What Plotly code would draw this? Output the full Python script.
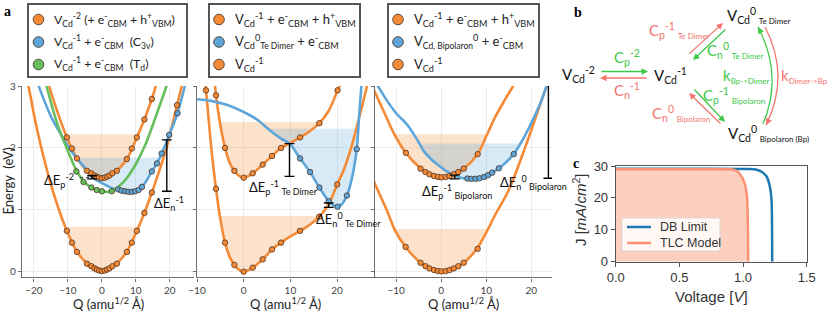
import plotly.graph_objects as go

# ---------------- Panel a1 (V_Cd^-2 / V_Cd^-1 C3v / Td) ----------------
a1_lo_q = [-23.0, -21.6, -19.0, -16.0, -13.0, -10.3, -7.4, -4.4, -2.0, 0.0, 2.0, 4.4, 7.4, 10.3, 12.5, 14.7, 17.0, 19.1, 22.1, 23.5, 24.5]
a1_lo_e = [3.35, 3.00, 2.28, 1.61, 1.06, 0.66, 0.33, 0.13, 0.03, 0.00, 0.03, 0.13, 0.33, 0.66, 0.95, 1.28, 1.65, 2.02, 2.69, 3.00, 3.25]
a1_lo_mk_q = [-10.3, -8.8, -7.35, -4.4, -3.1, -2.2, -1.5, -0.8, 0.0, 0.8, 1.5, 2.25, 3.1, 4.4, 7.35, 8.8, 10.3, 12.5, 14.7, 22.1]
a1_lo_mk_e = [0.66, 0.47, 0.32, 0.13, 0.09, 0.055, 0.035, 0.02, 0.01, 0.02, 0.035, 0.055, 0.09, 0.13, 0.32, 0.47, 0.66, 0.95, 1.28, 2.69]
a1_hi_q = [-17.0, -15.5, -13.0, -10.3, -7.35, -4.4, -2.0, 0.0, 2.0, 4.4, 7.35, 10.3, 12.5, 14.7, 15.7, 16.5]
a1_hi_e = [3.35, 3.00, 2.57, 2.17, 1.83, 1.63, 1.53, 1.50, 1.53, 1.63, 1.82, 2.17, 2.46, 2.79, 2.97, 3.15]
a1_hi_mk_q = [-10.3, -8.8, -7.35, -4.4, -3.1, -2.2, -1.5, -0.8, 0.0, 0.8, 1.5, 2.25, 3.1, 4.4, 7.35, 8.8, 10.3, 12.5, 14.7]
a1_hi_mk_e = [2.17, 1.99, 1.83, 1.63, 1.59, 1.555, 1.535, 1.52, 1.51, 1.52, 1.535, 1.555, 1.59, 1.63, 1.82, 1.99, 2.17, 2.46, 2.79]
a1_bl_q = [-19.6, -18.6, -15.0, -12.5, -10.3, -7.8, -5.0, -2.9, 0.0, 3.0, 5.8, 8.3, 10.8, 12.5, 14.7, 16.2, 17.6, 19.8, 22.25, 24.4, 25.3]
a1_bl_e = [3.15, 3.00, 2.51, 2.26, 2.06, 1.86, 1.68, 1.53, 1.43, 1.35, 1.31, 1.29, 1.32, 1.42, 1.62, 1.75, 1.91, 2.21, 2.56, 3.00, 3.20]
a1_bl_mk_q = [4.8, 5.8, 6.8, 7.8, 8.8, 9.8, 10.8, 11.8, 14.7, 16.2, 17.6, 19.8, 22.25]
a1_bl_mk_e = [1.33, 1.31, 1.30, 1.29, 1.29, 1.30, 1.32, 1.37, 1.62, 1.75, 1.91, 2.21, 2.56]
a1_gr_q = [-17.5, -16.3, -13.0, -10.0, -7.5, -5.4, -3.1, -1.5, 0.0, 1.5, 2.9, 5.0, 7.0, 10.0, 13.0, 16.0, 19.0, 20.0]
a1_gr_e = [3.25, 3.00, 2.37, 1.95, 1.64, 1.46, 1.36, 1.32, 1.30, 1.29, 1.30, 1.38, 1.49, 1.74, 2.08, 2.53, 3.00, 3.20]
a1_gr_mk_q = [-7.5, -5.4, -3.1, -1.5, 0.0, 2.9]
a1_gr_mk_e = [1.62, 1.45, 1.36, 1.32, 1.30, 1.30]
# shaded wells: top energy, left Q, right Q  (lower orange, upper orange, blue)
a1_shade_top = [0.727, 2.22, 1.84]
a1_shade_ql = [-10.75, -10.6, -7.6]
a1_shade_qr = [10.75, 10.6, 17.5]
# barriers (Q, E_low, E_high)
a1_bar_q = [19.1, -2.9]
a1_bar_lo = [1.30, 1.50]
a1_bar_hi = [2.13, 1.55]
a1_dash_q = [-6.4, -3.1]
a1_dash_e = [1.52, 1.52]

# ---------------- Panel a2 (Te dimer) ----------------
a2_lo_q = [-8.6, -8.07, -7.0, -5.93, -5.0, -4.0, -3.0, -2.0, -1.0, 0.0, 1.93, 4.07, 6.07, 8.0, 10.0, 12.07, 14.0, 16.2, 18.2, 20.0, 21.4, 23.0, 24.6, 26.4, 27.0]
a2_lo_e = [3.30, 2.93, 2.05, 1.34, 0.85, 0.47, 0.24, 0.11, 0.03, 0.00, 0.065, 0.20, 0.36, 0.47, 0.57, 0.66, 0.75, 0.89, 1.09, 1.41, 1.64, 2.00, 2.45, 3.00, 3.20]
a2_lo_mk_q = [-8.07, -5.93, -4.0, -2.0, 0.0, 1.93, 4.07, 6.07, 8.0, 12.07, 16.2, 20.0]
a2_lo_mk_e = [2.93, 1.34, 0.47, 0.11, 0.00, 0.065, 0.20, 0.36, 0.47, 0.66, 0.89, 1.41]
a2_hi_q = [-6.4, -5.93, -5.0, -4.0, -3.0, -2.0, -1.0, 0.0, 1.93, 4.07, 6.07, 8.0, 10.0, 12.07, 14.0, 16.2, 18.2, 20.1, 20.8, 21.4]
a2_hi_e = [3.25, 2.85, 2.37, 2.00, 1.76, 1.63, 1.55, 1.52, 1.59, 1.73, 1.87, 2.00, 2.08, 2.17, 2.26, 2.40, 2.60, 2.93, 3.05, 3.20]
a2_hi_mk_q = [-5.93, -4.0, -2.0, 0.0, 1.93, 4.07, 6.07, 8.0, 12.07, 16.2, 20.1]
a2_hi_mk_e = [2.85, 2.00, 1.63, 1.52, 1.59, 1.73, 1.87, 2.00, 2.17, 2.40, 2.93]
a2_bl_q = [-10.5, -7.0, -3.8, 0.0, 3.0, 5.5, 8.0, 9.8, 12.07, 14.2, 16.2, 18.2, 19.2, 20.1, 21.0, 22.1, 23.2, 24.2, 24.7, 25.2, 25.6]
a2_bl_e = [2.79, 2.76, 2.70, 2.58, 2.45, 2.29, 2.15, 2.07, 1.83, 1.61, 1.36, 1.14, 1.07, 1.05, 1.09, 1.23, 1.52, 1.98, 2.50, 3.00, 3.35]
a2_bl_mk_q = [12.07, 14.2, 16.2, 18.2, 20.1, 22.1, 24.2]
a2_bl_mk_e = [1.83, 1.61, 1.36, 1.14, 1.05, 1.23, 1.98]
a2_shade_top = [0.90, 2.42, 2.31]
a2_shade_ql = [-5.07, -5.1, 5.2]
a2_shade_qr = [16.3, 16.45, 24.45]
a2_bar_q = [9.8, 18.2]
a2_bar_lo = [1.54, 1.04]
a2_bar_hi = [2.07, 1.11]

# ---------------- Panel a3 (Bipolaron) ----------------
a3_lo_q = [-15.0, -14.6, -12.0, -10.2, -7.9, -4.6, -2.0, 0.0, 2.0, 5.0, 7.9, 10.2, 12.0, 15.0, 18.7, 21.0, 23.5, 24.8]
a3_lo_e = [1.47, 1.40, 0.98, 0.66, 0.40, 0.145, 0.03, 0.00, 0.03, 0.145, 0.37, 0.66, 0.92, 1.32, 2.02, 2.50, 3.02, 3.30]
a3_lo_mk_q = [-7.9, -4.6, -3.5, -2.6, -1.6, -0.7, 0.07, 1.0, 1.85, 2.8, 3.8, 5.0, 8.1]
a3_lo_mk_e = [0.40, 0.145, 0.09, 0.054, 0.027, 0.011, 0.005, 0.011, 0.027, 0.054, 0.09, 0.145, 0.37]
a3_hi_q = [-15.5, -14.9, -12.7, -10.4, -7.85, -4.6, -2.0, 0.0, 2.0, 5.0, 8.1, 10.2, 12.0, 14.0, 16.8, 17.5]
a3_hi_e = [3.02, 2.93, 2.58, 2.22, 1.92, 1.67, 1.55, 1.52, 1.55, 1.665, 1.90, 2.22, 2.50, 2.76, 3.10, 3.20]
a3_hi_mk_q = [-7.85, -4.6, -3.5, -2.6, -1.6, -0.7, 0.07, 1.0, 1.85, 2.8, 3.8, 5.0, 8.1]
a3_hi_mk_e = [1.92, 1.665, 1.61, 1.574, 1.547, 1.531, 1.525, 1.531, 1.547, 1.574, 1.61, 1.665, 1.90]
a3_bl_q = [-15.2, -14.5, -12.0, -10.0, -7.5, -5.0, -3.8, -1.0, 2.2, 4.5, 6.7, 8.5, 10.4, 12.8, 16.1, 18.0, 20.0, 22.0, 23.5, 24.6]
a3_bl_e = [3.12, 3.05, 2.76, 2.56, 2.37, 2.09, 1.94, 1.74, 1.58, 1.515, 1.50, 1.51, 1.56, 1.67, 1.90, 2.12, 2.40, 2.72, 3.02, 3.25]
a3_bl_mk_q = [5.8, 6.7, 7.6, 8.5, 9.5, 10.4, 11.3, 12.8, 16.1]
a3_bl_mk_e = [1.505, 1.50, 1.50, 1.51, 1.53, 1.56, 1.60, 1.67, 1.90]
a3_shade_top = [0.69, 2.22, 2.07]
a3_shade_ql = [-10.45, -10.4, -5.1]
a3_shade_qr = [10.45, 10.2, 17.5]
a3_bar_q = [3.0, 23.8]
a3_bar_lo = [1.50, 1.51]
a3_bar_hi = [1.56, 3.03]

# ---------------- Panel c (J-V) ----------------
db_v = [0.0, 0.6, 1.05, 1.10, 1.146, 1.185, 1.211, 1.224, 1.229]
db_j = [29.1, 29.1, 29.05, 28.9, 28.2, 26.7, 23.5, 19.3, 0.0]
tlc_v = [0.0, 0.6, 0.90, 0.935, 0.963, 0.997, 1.02, 1.033, 1.041]
tlc_j = [29.0, 29.0, 28.95, 28.7, 28.0, 26.1, 23.5, 19.3, 0.0]
c_names = ["DB Limit", "TLC Model"]


def small(s, size=8.5):
    return "<span style='font-size:%spx'>%s</span>" % (size, s)


# legend labels for the three configuration-coordinate panels
leg1_labels = ["V<sub>Cd</sub><sup>-2</sup> (+ e<sup>-</sup><sub>CBM</sub> + h<sup>+</sup><sub>VBM</sub>)",
               "V<sub>Cd</sub><sup>-1</sup> + e<sup>-</sup><sub>CBM</sub>  (C<sub>3v</sub>)",
               "V<sub>Cd</sub><sup>-1</sup> + e<sup>-</sup><sub>CBM</sub>  (T<sub>d</sub>)"]
leg2_labels = ["V<sub>Cd</sub><sup>-1</sup> + e<sup>-</sup><sub>CBM</sub> + h<sup>+</sup><sub>VBM</sub>",
               "V<sub>Cd</sub><sup>0</sup><sub>" + small("Te Dimer") + "</sub> + e<sup>-</sup><sub>CBM</sub>",
               "V<sub>Cd</sub><sup>-1</sup>"]
leg3_labels = ["V<sub>Cd</sub><sup>-1</sup> + e<sup>-</sup><sub>CBM</sub> + h<sup>+</sup><sub>VBM</sub>",
               "V<sub>" + small("Cd, Bipolaron") + "</sub><sup>0</sup> + e<sup>-</sup><sub>CBM</sub>",
               "V<sub>Cd</sub><sup>-1</sup>"]

# ---------------- styling ----------------
W, H = 830, 315
ORANGE = "#f58a36"
BLUE = "#5ea6d9"
GREEN = "#66bf5c"
MK_LINE = "rgba(70,45,30,0.95)"
SH_OR = "rgba(245,138,54,0.26)"
SH_BL = "rgba(94,166,217,0.24)"
REDT = "#f27570"
GRNT = "#3ec84a"
DBC = "#1f77b4"
TLCC = "#fc9272"
FONT = "Lato"
CFONT = "Liberation Sans"
leg1_colors = [ORANGE, BLUE, GREEN]
leg2_colors = [ORANGE, BLUE, ORANGE]
leg3_colors = [ORANGE, BLUE, ORANGE]


def px(x):
    return x / W


def py(y):
    return 1 - y / H


fig = go.Figure()


def shade(qs, es, top, ql, qr, color, ax):
    xs, ys = [ql], [top]
    for q, e in zip(qs, es):
        if ql < q < qr:
            xs.append(q)
            ys.append(e)
    xs.append(qr)
    ys.append(top)
    fig.add_trace(go.Scatter(x=xs, y=ys, mode="lines", fill="toself", fillcolor=color,
                             line=dict(width=0, shape="spline"), hoverinfo="skip",
                             showlegend=False, xaxis="x" + ax, yaxis="y" + ax))


def curve(qs, es, color, ax):
    fig.add_trace(go.Scatter(x=qs, y=es, mode="lines", line=dict(color=color, width=2.6, shape="spline"),
                             hoverinfo="skip", showlegend=False, xaxis="x" + ax, yaxis="y" + ax))


def marks(qs, es, color, ax):
    fig.add_trace(go.Scatter(x=qs, y=es, mode="markers",
                             marker=dict(color=color, size=5.5, line=dict(color=MK_LINE, width=0.8)),
                             showlegend=False, hoverinfo="skip", xaxis="x" + ax, yaxis="y" + ax))


def bars(qs, lo, hi, ax):
    for q, a, b in zip(qs, lo, hi):
        fig.add_trace(go.Scatter(x=[q, q], y=[a, b], mode="lines+markers",
                                 line=dict(color="black", width=1.4),
                                 marker=dict(symbol="line-ew-open", size=7, line=dict(color="black", width=1.4)),
                                 hoverinfo="skip", showlegend=False, xaxis="x" + ax, yaxis="y" + ax))


# ---- a1 ----
ax = ""
shade(a1_lo_q, a1_lo_e, a1_shade_top[0], a1_shade_ql[0], a1_shade_qr[0], SH_OR, ax)
shade(a1_hi_q, a1_hi_e, a1_shade_top[1], a1_shade_ql[1], a1_shade_qr[1], SH_OR, ax)
shade(a1_bl_q, a1_bl_e, a1_shade_top[2], a1_shade_ql[2], a1_shade_qr[2], SH_BL, ax)
curve(a1_lo_q, a1_lo_e, ORANGE, ax)
curve(a1_hi_q, a1_hi_e, ORANGE, ax)
curve(a1_bl_q, a1_bl_e, BLUE, ax)
curve(a1_gr_q, a1_gr_e, GREEN, ax)
marks(a1_lo_mk_q, a1_lo_mk_e, ORANGE, ax)
marks(a1_hi_mk_q, a1_hi_mk_e, ORANGE, ax)
marks(a1_bl_mk_q, a1_bl_mk_e, BLUE, ax)
marks(a1_gr_mk_q, a1_gr_mk_e, GREEN, ax)
fig.add_trace(go.Scatter(x=a1_dash_q, y=a1_dash_e, mode="lines", line=dict(color="#333", width=1, dash="dot"),
                         hoverinfo="skip", showlegend=False))
bars(a1_bar_q, a1_bar_lo, a1_bar_hi, ax)

# ---- a2 ----
ax = "2"
shade(a2_lo_q, a2_lo_e, a2_shade_top[0], a2_shade_ql[0], a2_shade_qr[0], SH_OR, ax)
shade(a2_hi_q, a2_hi_e, a2_shade_top[1], a2_shade_ql[1], a2_shade_qr[1], SH_OR, ax)
shade(a2_bl_q, a2_bl_e, a2_shade_top[2], a2_shade_ql[2], a2_shade_qr[2], SH_BL, ax)
curve(a2_lo_q, a2_lo_e, ORANGE, ax)
curve(a2_hi_q, a2_hi_e, ORANGE, ax)
curve(a2_bl_q, a2_bl_e, BLUE, ax)
marks(a2_hi_mk_q, a2_hi_mk_e, ORANGE, ax)
marks(a2_bl_mk_q, a2_bl_mk_e, BLUE, ax)
marks(a2_lo_mk_q, a2_lo_mk_e, ORANGE, ax)
bars(a2_bar_q, a2_bar_lo, a2_bar_hi, ax)

# ---- a3 ----
ax = "3"
shade(a3_lo_q, a3_lo_e, a3_shade_top[0], a3_shade_ql[0], a3_shade_qr[0], SH_OR, ax)
shade(a3_hi_q, a3_hi_e, a3_shade_top[1], a3_shade_ql[1], a3_shade_qr[1], SH_OR, ax)
shade(a3_bl_q, a3_bl_e, a3_shade_top[2], a3_shade_ql[2], a3_shade_qr[2], SH_BL, ax)
curve(a3_lo_q, a3_lo_e, ORANGE, ax)
curve(a3_hi_q, a3_hi_e, ORANGE, ax)
curve(a3_bl_q, a3_bl_e, BLUE, ax)
marks(a3_hi_mk_q, a3_hi_mk_e, ORANGE, ax)
marks(a3_bl_mk_q, a3_bl_mk_e, BLUE, ax)
marks(a3_lo_mk_q, a3_lo_mk_e, ORANGE, ax)
bars(a3_bar_q, a3_bar_lo, a3_bar_hi, ax)

# ---- c ----
fig.add_trace(go.Scatter(x=tlc_v, y=tlc_j, mode="lines", fill="tozeroy", fillcolor="rgba(252,160,125,0.5)",
                         line=dict(width=0, shape="spline", smoothing=0.6), hoverinfo="skip",
                         showlegend=False, xaxis="x4", yaxis="y4"))
fig.add_trace(go.Scatter(x=db_v, y=db_j, mode="lines", name=c_names[0], showlegend=False,
                         line=dict(color=DBC, width=2.5, shape="spline", smoothing=0.6),
                         xaxis="x4", yaxis="y4"))
fig.add_trace(go.Scatter(x=tlc_v, y=tlc_j, mode="lines", name=c_names[1], showlegend=False,
                         line=dict(color=TLCC, width=2.5, shape="spline", smoothing=0.6),
                         xaxis="x4", yaxis="y4"))

# ---------------- axes ----------------
ax_common = dict(showline=True, linecolor="#6e6e6e", linewidth=1.4, ticks="outside", ticklen=3,
                 tickcolor="#6e6e6e", showgrid=True, gridcolor="#ececec", gridwidth=1, zeroline=False,
                 automargin=False, tickfont=dict(family=FONT, size=10, color="#444"))
ydom = [1 - 277.3 / H, 1 - 86 / H]
c_common = dict(showline=True, mirror=True, linecolor="#555", linewidth=1, ticks="outside", ticklen=4,
                tickcolor="#555", showgrid=False, zeroline=False, automargin=False,
                tickfont=dict(family=CFONT, size=13, color="#333"))
fig.update_layout(
    template="none",
    showlegend=False,
    xaxis=dict(domain=[px(22), px(194)], range=[-23.5, 27.1], tickvals=[-20, -10, 0, 10, 20],
               anchor="y", **ax_common),
    yaxis=dict(domain=ydom, range=[-0.09, 3.0], tickvals=[0, 1, 2, 3], anchor="x", **ax_common),
    xaxis2=dict(domain=[px(197), px(374)], range=[-10, 27.9], tickvals=[-10, 0, 10, 20],
                anchor="y2", **ax_common),
    yaxis2=dict(domain=ydom, range=[-0.09, 3.0], tickvals=[0, 1, 2, 3], showticklabels=False,
                anchor="x2", **ax_common),
    xaxis3=dict(domain=[px(375), px(552)], range=[-14.7, 24.6], tickvals=[-10, 0, 10, 20],
                anchor="y3", **ax_common),
    yaxis3=dict(domain=ydom, range=[-0.09, 3.0], tickvals=[0, 1, 2, 3], showticklabels=False,
                anchor="x3", **ax_common),
    xaxis4=dict(domain=[px(615.7), px(806.7)], range=[0, 1.5], tickvals=[0, 0.5, 1.0, 1.5],
                tickformat=".1f", anchor="y4", **c_common),
    yaxis4=dict(domain=[1 - 261.7 / H, 1 - 166 / H], range=[0, 30], tickvals=[0, 10, 20, 30],
                anchor="x4", **c_common),
)

ann = []
shapes = []

# axis titles
for cx in [108, 285.5, 463.5]:
    ann.append(dict(text="Q (amu<sup>1/2</sup> Å)", x=px(cx), y=py(303), xref="paper", yref="paper",
                    showarrow=False, xanchor="center", yanchor="middle",
                    font=dict(family=FONT, size=13, color="#222")))
ann.append(dict(text="Energy  (eV)", x=px(7.5), y=py(181), xref="paper", yref="paper", textangle=-90,
                showarrow=False, xanchor="center", yanchor="middle", font=dict(family=FONT, size=13, color="#222")))
ann.append(dict(text="Voltage [<i>V</i>]", x=px(711), y=py(296), xref="paper", yref="paper",
                showarrow=False, xanchor="center", yanchor="middle", font=dict(family=CFONT, size=15, color="#333")))
ann.append(dict(text="J [<i>mA</i>/<i>cm</i><sup>2</sup>]", x=px(579), y=py(210), xref="paper", yref="paper",
                textangle=-90, showarrow=False, xanchor="center", yanchor="middle",
                font=dict(family=CFONT, size=15, color="#333")))

# ---- boxed keys for panels a (drawn as layout shapes + text) ----
boxes = [(28, 187, 38.5, 52, leg1_labels, leg1_colors, 12.3),
         (209, 360, 219, 233, leg2_labels, leg2_colors, 13),
         (388, 539, 398, 412, leg3_labels, leg3_colors, 13)]
rows_y = [19.5, 42, 64.5]
for x0, x1, mx, tx, labels, cols, fs in boxes:
    shapes.append(dict(type="rect", xref="paper", yref="paper", x0=px(x0), x1=px(x1), y0=py(77), y1=py(4),
                       line=dict(color="#555", width=2), fillcolor="white"))
    for ry, lab, col in zip(rows_y, labels, cols):
        shapes.append(dict(type="circle", xref="paper", yref="paper", x0=px(mx - 5.3), x1=px(mx + 5.3),
                           y0=py(ry + 5.3), y1=py(ry - 5.3), fillcolor=col,
                           line=dict(color="#4a3a30", width=0.9)))
        ann.append(dict(text=lab, x=px(tx), y=py(ry), xref="paper", yref="paper", showarrow=False,
                        xanchor="left", yanchor="middle", font=dict(family=FONT, size=fs, color="#222")))

# ---- key for panel c ----
shapes.append(dict(type="path", xref="paper", yref="paper",
                   path="M %f,%f L %f,%f L %f,%f L %f,%f Z" % (px(622), py(218), px(720), py(218),
                                                               px(720), py(251), px(622), py(251)),
                   line=dict(color="#d8d8d8", width=1), fillcolor="rgba(255,255,255,0.85)"))
for ry, lab, col in zip([227, 243], c_names, [DBC, TLCC]):
    shapes.append(dict(type="line", xref="paper", yref="paper", x0=px(627), x1=px(651), y0=py(ry), y1=py(ry),
                       line=dict(color=col, width=2.5)))
    ann.append(dict(text=lab, x=px(658), y=py(ry), xref="paper", yref="paper", showarrow=False,
                    xanchor="left", yanchor="middle", font=dict(family=CFONT, size=12.5, color="#333")))

# panel letters
for letter, x, y in [("a", 2, 2), ("b", 572, 3), ("c", 571, 154)]:
    ann.append(dict(text="<b>%s</b>" % letter, x=px(x), y=py(y), xref="paper", yref="paper",
                    xanchor="left", yanchor="top", showarrow=False,
                    font=dict(family="Liberation Serif", size=14, color="black")))

# Delta E labels (data coords)
lab_font = dict(family=FONT, size=13, color="#111")
for txt, x, y, xr, yr in [
    ("ΔE<sub>p</sub><sup>-2</sup>", -12.6, 1.47, "x", "y"),
    ("ΔE<sub>n</sub><sup>-1</sup>", 19.6, 1.10, "x", "y"),
    ("ΔE<sub>p</sub><sup>-1</sup><sub> " + small("Te Dimer", 9) + "</sub>", 8.6, 1.36, "x2", "y2"),
    ("ΔE<sub>n</sub><sup>0</sup><sub> " + small("Te Dimer", 9) + "</sub>", 22.4, 0.85, "x2", "y2"),
    ("ΔE<sub>p</sub><sup>-1</sup><sub> " + small("Bipolaron", 9) + "</sub>", 3.6, 1.30, "x3", "y3"),
    ("ΔE<sub>n</sub><sup>0</sup><sub> " + small("Bipolaron", 9) + "</sub>", 20.6, 1.44, "x3", "y3"),
]:
    ann.append(dict(text=txt, x=x, y=y, xref=xr, yref=yr, showarrow=False, font=lab_font,
                    xanchor="center", yanchor="middle"))

# panel b: state labels
bfont_k = dict(family=FONT, size=15, color="#111")
for txt, x, y in [
    ("V<sub>Cd</sub><sup>-2</sup>", 578, 74),
    ("V<sub>Cd</sub><sup>-1</sup>", 670, 75),
    ("V<sub>Cd</sub><sup>0</sup><sub> " + small("Te Dimer", 8) + "</sub>", 759, 15),
    ("V<sub>Cd</sub><sup>0</sup><sub> " + small("Bipolaron (Bp)", 8) + "</sub>", 768, 133),
]:
    ann.append(dict(text=txt, x=px(x), y=py(y), xref="paper", yref="paper", showarrow=False,
                    font=bfont_k, xanchor="center", yanchor="middle"))
for txt, x, y, col, anchor in [
    ("C<sub>p</sub><sup>-2</sup>", 627, 57, GRNT, "center"),
    ("C<sub>n</sub><sup>-1</sup>", 627, 91, REDT, "center"),
    ("C<sub>p</sub><sup>-1</sup><sub> " + small("Te Dimer", 8) + "</sub>", 679, 31, REDT, "center"),
    ("C<sub>n</sub><sup>0</sup><sub> " + small("Te Dimer", 8) + "</sub>", 735, 51, GRNT, "center"),
    ("k<sub>" + small("Bp->Dimer", 8) + "</sub>", 721, 76, GRNT, "left"),
    ("k<sub>" + small("Dimer->Bp", 8) + "</sub>", 779, 76, REDT, "left"),
    ("C<sub>p</sub><sup>-1</sup><sub> " + small("Bipolaron", 8) + "</sub>", 734, 95, GRNT, "center"),
    ("C<sub>n</sub><sup>0</sup><sub> " + small("Bipolaron", 8) + "</sub>", 681, 113, REDT, "center"),
]:
    ann.append(dict(text=txt, x=px(x), y=py(y), xref="paper", yref="paper", showarrow=False,
                    font=dict(family=FONT, size=15, color=col), xanchor=anchor, yanchor="middle"))

# panel b: straight arrows (tail -> head, pixels)
for tx, ty, hx, hy, col in [
    (600, 71.5, 648, 71.5, GRNT),
    (648, 78, 600, 78, REDT),
    (688, 55, 723, 23, REDT),
    (727, 28, 693, 60, GRNT),
    (693, 88, 725, 122, GRNT),
    (722, 125, 689, 93, REDT),
]:
    ann.append(dict(text="", x=px(hx), y=py(hy), xref="paper", yref="paper", showarrow=True,
                    ax=tx - hx, ay=ty - hy, axref="pixel", ayref="pixel",
                    arrowhead=2, arrowsize=1.0, arrowwidth=1.3, arrowcolor=col))

# panel b: curved arrows
arcs = [((763, 124), (783.5, 75.5), (758, 27), GRNT),
        ((765, 27), (790.5, 76), (766, 125), REDT)]
for (x0, y0), (cx, cy), (x1, y1), col in arcs:
    shapes.append(dict(type="path", xref="paper", yref="paper",
                       path="M %f,%f Q %f,%f %f,%f" % (px(x0), py(y0), px(cx), py(cy), px(x1), py(y1)),
                       line=dict(color=col, width=1.3)))
    dx, dy = cx - x1, cy - y1
    n = (dx * dx + dy * dy) ** 0.5
    ann.append(dict(text="", x=px(x1), y=py(y1), xref="paper", yref="paper", showarrow=True,
                    ax=dx / n * 7, ay=dy / n * 7, axref="pixel", ayref="pixel",
                    arrowhead=2, arrowsize=1.0, arrowwidth=1.3, arrowcolor=col))

fig.update_layout(annotations=ann, shapes=shapes, width=W, height=H,
                  margin=dict(l=0, r=0, t=0, b=0, pad=0, autoexpand=False),
                  plot_bgcolor="white", paper_bgcolor="white",
                  font=dict(family=FONT))

fig.write_html("out.html", config={"displayModeBar": False},
               post_script="document.body.style.margin='0px';document.body.style.padding='0px';")
